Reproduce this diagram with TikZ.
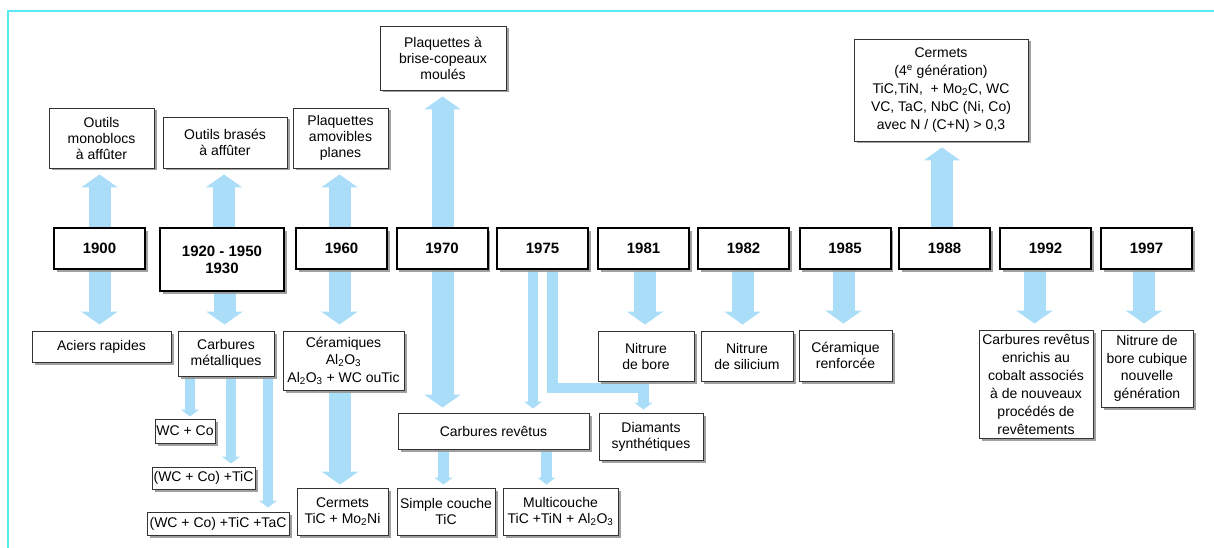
\documentclass[tikz,border=0pt]{standalone}
\usepackage{fontspec}
\setmainfont{Liberation Sans}
\usetikzlibrary{arrows.meta,shadows,backgrounds,calc}
\definecolor{arr}{RGB}{170,221,248}
\definecolor{framec}{RGB}{90,235,240}
\definecolor{shad}{RGB}{150,150,150}
\begin{document}
\begin{tikzpicture}[x=1pt,y=-1pt,
  box/.style={draw=black!80, line width=0.9pt, fill=white, align=center, inner sep=0pt,
    font=\fontsize{14}{16}\selectfont,
    drop shadow={shadow xshift=2.5pt, shadow yshift=-2.5pt, fill=shad, opacity=0.9}},
  yearbox/.style={box, draw=black, line width=2pt, font=\fontsize{15}{17}\selectfont\bfseries,
    minimum width=91pt, minimum height=41pt},
  bigarrow/.style={draw=arr, line width=22pt, -{Triangle[width=36pt,length=13pt]}, shorten >=6pt},
  smallarrow/.style={draw=arr, line width=10.5pt, -{Triangle[width=18pt,length=7pt]}, shorten >=3pt},
]
\useasboundingbox (0,0) rectangle (1214,548);
\draw[framec, line width=1.2pt] (8,548) -- (8,11) -- (1214,11);

% year boxes
\node[yearbox] (y1900) at (99.5,248.5) {1900};
\node[yearbox, minimum width=124pt, minimum height=63pt] (y1920) at (222,259.5) {1920 - 1950\\1930};
\node[yearbox] (y1960) at (341.5,248.5) {1960};
\node[yearbox] (y1970) at (442,248.5) {1970};
\node[yearbox] (y1975) at (542.5,248.5) {1975};
\node[yearbox] (y1981) at (643.5,248.5) {1981};
\node[yearbox] (y1982) at (743.5,248.5) {1982};
\node[yearbox] (y1985) at (845,248.5) {1985};
\node[yearbox] (y1988) at (944.5,248.5) {1988};
\node[yearbox] (y1992) at (1045.5,248.5) {1992};
\node[yearbox] (y1997) at (1146.5,248.5) {1997};

% top boxes
\node[box, minimum width=105pt, minimum height=60pt] (mono) at (101.5,138) {Outils\\monoblocs\\à affûter};
\node[box, minimum width=124pt, minimum height=51pt] (brases) at (225,142.5) {Outils brasés\\à affûter};
\node[box, minimum width=95pt, minimum height=60pt] (amov) at (340.5,138) {Plaquettes\\amovibles\\planes};
\node[box, minimum width=126pt, minimum height=64pt] (brise) at (443,58) {Plaquettes à\\brise-copeaux\\moulés};
\node[box, minimum width=174pt, minimum height=102pt, font=\fontsize{14}{18}\selectfont] (cerm4) at (941,90)
  {Cermets\\(4\textsuperscript{e} génération)\\TiC,TiN,~ + Mo\textsubscript{2}C, WC\\VC, TaC, NbC (Ni, Co)\\avec N / (C+N) > 0,3};

% bottom boxes
\node[box, minimum width=139pt, minimum height=31pt] (aciers) at (101.5,346.5) {Aciers rapides};
\node[box, minimum width=96pt, minimum height=45pt] (carbm) at (226,353.5) {Carbures\\métalliques};
\node[box, minimum width=121pt, minimum height=59pt, font=\fontsize{14}{17.5}\selectfont] (ceram) at (343.5,360.5)
  {Céramiques\\Al\textsubscript{2}O\textsubscript{3}\\Al\textsubscript{2}O\textsubscript{3} + WC ouTic};
\node[box, minimum width=96pt, minimum height=50pt] (nbore) at (646,356) {Nitrure\\de bore};
\node[box, minimum width=92pt, minimum height=50pt] (nsil) at (747,356) {Nitrure\\de silicium};
\node[box, minimum width=93pt, minimum height=51pt] (ceramr) at (845.5,355.5) {Céramique\\renforcée};
\node[box, minimum width=114pt, minimum height=108pt, font=\fontsize{14}{18}\selectfont] (carbrev2) at (1036,384)
  {Carbures revêtus\\enrichis au\\cobalt associés\\à de nouveaux\\procédés de\\revêtements};
\node[box, minimum width=92pt, minimum height=77pt, font=\fontsize{14}{17.5}\selectfont] (nbc) at (1147,368.5)
  {Nitrure de\\bore cubique\\nouvelle\\génération};
\node[box, minimum width=60pt, minimum height=24pt] (wcco) at (185,431) {WC + Co};
\node[box, minimum width=103pt, minimum height=22pt] (wccotic) at (203.5,478) {(WC + Co) +TiC};
\node[box, minimum width=142pt, minimum height=23pt] (wccotictac) at (218,523.5) {(WC + Co) +TiC +TaC};
\node[box, minimum width=91pt, minimum height=47pt] (cerm2) at (342.5,511.5) {Cermets\\TiC + Mo\textsubscript{2}Ni};
\node[box, minimum width=191pt, minimum height=36pt] (carbrev) at (493.5,431) {Carbures revêtus};
\node[box, minimum width=104pt, minimum height=47pt] (diam) at (651,436.5) {Diamants\\synthétiques};
\node[box, minimum width=98pt, minimum height=47pt] (simple) at (446,511.5) {Simple couche\\TiC};
\node[box, minimum width=115pt, minimum height=47pt] (multi) at (560.5,511.5) {Multicouche\\TiC +TiN + Al\textsubscript{2}O\textsubscript{3}};

\coordinate (bend) at (643.5,388);

\begin{scope}[on background layer]
  % up arrows
  \draw[bigarrow] (y1900.north) -- (y1900.north |- mono.south);
  \draw[bigarrow] ([xshift=2pt]y1920.north) -- ([xshift=2pt]y1920.north |- brases.south);
  \draw[bigarrow] ([xshift=-2pt]y1960.north) -- ([xshift=-2pt]y1960.north |- amov.south);
  \draw[bigarrow] ([xshift=0.5pt]y1970.north) -- ([xshift=0.5pt]y1970.north |- brise.south);
  \draw[bigarrow] ([xshift=-2.5pt]y1988.north) -- ([xshift=-2.5pt]y1988.north |- cerm4.south);
  % down arrows
  \draw[bigarrow] (y1900.south) -- (y1900.south |- aciers.north);
  \draw[bigarrow] ([xshift=2.5pt]y1920.south) -- ([xshift=2.5pt]y1920.south |- carbm.north);
  \draw[bigarrow] ([xshift=-2pt]y1960.south) -- ([xshift=-2pt]y1960.south |- ceram.north);
  \draw[bigarrow, shorten >=5pt] ([xshift=0.5pt]y1970.south) -- ([xshift=0.5pt]y1970.south |- carbrev.north);
  \draw[bigarrow] ([xshift=1.5pt]y1981.south) -- ([xshift=1.5pt]y1981.south |- nbore.north);
  \draw[bigarrow] ([xshift=-1pt]y1982.south) -- ([xshift=-1pt]y1982.south |- nsil.north);
  \draw[bigarrow] ([xshift=-1.5pt]y1985.south) -- ([xshift=-1.5pt]y1985.south |- ceramr.north);
  \draw[bigarrow] ([xshift=-11pt]y1992.south) -- ([xshift=-11pt]y1992.south |- carbrev2.north);
  \draw[bigarrow] ([xshift=-2.5pt]y1997.south) -- ([xshift=-2.5pt]y1997.south |- nbc.north);
  \draw[bigarrow, shorten >=3pt] ([xshift=-3.5pt]ceram.south) -- ([xshift=-3.5pt]ceram.south |- cerm2.north);
  % small arrows
  \draw[smallarrow, shorten >=2pt] ([xshift=-36pt]carbm.south) -- ([xshift=-36pt]carbm.south |- wcco.north);
  \draw[smallarrow] ([xshift=5pt]carbm.south) -- ([xshift=5pt]carbm.south |- wccotic.north);
  \draw[smallarrow, shorten >=4pt] ([xshift=42pt]carbm.south) -- ([xshift=42pt]carbm.south |- wccotictac.north);
  \draw[smallarrow, shorten >=4pt] ([xshift=-9.5pt]y1975.south) -- ([xshift=-9.5pt]y1975.south |- carbrev.north);
  \draw[smallarrow] ([xshift=10pt]y1975.south) |- (bend) -- (bend |- diam.north);
  \draw[smallarrow] ([xshift=-50pt]carbrev.south) -- ([xshift=-50pt]carbrev.south |- simple.north);
  \draw[smallarrow] ([xshift=53pt]carbrev.south) -- ([xshift=53pt]carbrev.south |- multi.north);
\end{scope}
\end{tikzpicture}
\end{document}
